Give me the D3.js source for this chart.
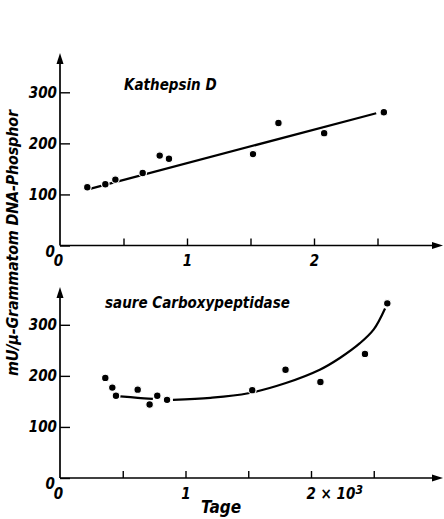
<html>
	<head>
		<script src="https://d3js.org/d3.v7.min.js" charset="utf-8"></script>
		<style>
			body { margin: 0; background: #fff; }
			svg text { font-family: "DejaVu Sans Condensed", "DejaVu Sans", sans-serif; font-style: italic; font-weight: bold; fill: #000; }
		</style>
	</head>
	<body>
		<div id="chart"></div>
		<script>
			//Data (x in 10^3 Tage, y in mU/µ-Grammatom DNA-Phosphor)
			var katX = [0.215, 0.357, 0.436, 0.651, 0.785, 0.858, 1.52, 1.72, 2.08, 2.55];
			var katY = [114, 120, 129, 142, 176, 170, 179, 240, 220, 261];
			var katFitX = [0.22, 2.49];
			var katFitY = [110, 259];

			var carbX = [0.361, 0.417, 0.446, 0.619, 0.714, 0.775, 0.853, 1.532, 1.797, 2.075, 2.43, 2.608];
			var carbY = [196, 177, 161, 173, 144, 161, 153, 172, 212, 188, 243, 342];
			var carbFit1X = [0.48, 0.62, 0.74];
			var carbFit1Y = [160, 157, 155];
			var carbFit2X = [0.9, 1.2, 1.5, 1.8, 2.07, 2.23, 2.39, 2.5, 2.59];
			var carbFit2Y = [153, 157, 166, 186, 212, 235, 264, 291, 332];

			var yTicks = [0, 100, 200, 300];
			var xTicks = [0, 0.5, 1, 1.5, 2, 2.5];

			//Setup
			var svg = d3.select("#chart").append("svg")
				.attr("width", 444)
				.attr("height", 519);

			function panel(opts) {
				var x = d3.scaleLinear().domain([0, 2]).range([60, opts.x2]);
				var y = d3.scaleLinear().domain([0, 300]).range([opts.y0, opts.y0 - 153.2]);
				var g = svg.append("g");

				// y ticks (inward) and labels
				var yAx = g.append("g")
					.attr("transform", "translate(60,0)")
					.call(d3.axisLeft(y).tickValues(yTicks).tickSizeInner(-10).tickSizeOuter(0).tickPadding(3));
				yAx.select(".domain").remove();
				yAx.selectAll("line").attr("stroke-width", 1.4);
				yAx.selectAll("text").attr("font-size", "15px").attr("font-family", null);
				yAx.selectAll("text").filter(function(d) { return d == 0; })
					.attr("dy", "0.7em").attr("x", -5);

				// x ticks (upward) and labels
				var xAx = g.append("g")
					.attr("transform", "translate(0," + opts.y0 + ")")
					.call(d3.axisBottom(x).tickValues(xTicks).tickSizeInner(-7).tickSizeOuter(0).tickPadding(10)
						.tickFormat(function(d) { return (d == 0 || d == 1 || d == 2) ? d : ""; }));
				xAx.select(".domain").remove();
				xAx.selectAll("line").attr("stroke-width", 1.4)
					.filter(function(d) { return d == 0; }).remove();
				xAx.selectAll("text").attr("font-size", "15px").attr("font-family", null);
				xAx.selectAll("text").filter(function(d) { return d == 0; }).attr("x", -2);
				if (opts.power) {
					var t2 = xAx.selectAll("text").filter(function(d) { return d == 2; });
					t2.text(null).attr("text-anchor", "start").attr("x", -5);
					t2.append("tspan").text("2 × 10");
					t2.append("tspan").attr("dy", "-0.4em").attr("font-size", "12px").text("3");
				}

				// axis lines with arrows
				g.append("line")
					.attr("x1", 60).attr("x2", 60)
					.attr("y1", opts.y0).attr("y2", opts.top + 8)
					.attr("stroke", "#000").attr("stroke-width", 1.7);
				g.append("line")
					.attr("x1", 60).attr("x2", 436)
					.attr("y1", opts.y0).attr("y2", opts.y0)
					.attr("stroke", "#000").attr("stroke-width", 1.7);
				g.append("path")
					.attr("d", "M60," + opts.top + "L56.5," + (opts.top + 11) + "L63.5," + (opts.top + 11) + "Z")
					.attr("fill", "#000");
				g.append("path")
					.attr("d", "M443," + opts.y0 + "L432," + (opts.y0 - 3.5) + "L432," + (opts.y0 + 3.5) + "Z")
					.attr("fill", "#000");

				// fitted curves
				var line = d3.line().curve(d3.curveCatmullRom)
					.x(function(d) { return x(d[0]); })
					.y(function(d) { return y(d[1]); });
				opts.fits.forEach(function(f) {
					g.append("path")
						.datum(d3.zip(f[0], f[1]))
						.attr("d", line)
						.attr("fill", "none")
						.attr("stroke", "#000")
						.attr("stroke-width", 2.2);
				});

				// points
				g.selectAll("circle")
					.data(d3.zip(opts.xs, opts.ys))
					.enter().append("circle")
					.attr("cx", function(d) { return x(d[0]); })
					.attr("cy", function(d) { return y(d[1]); })
					.attr("r", 3.8)
					.attr("fill", "#000")
					.attr("stroke", "#fff")
					.attr("stroke-width", 1.2);

				// title
				g.append("text")
					.attr("x", opts.titleX)
					.attr("y", opts.titleY)
					.attr("font-size", "15px")
					.text(opts.title);
			}

			panel({y0: 245.5, top: 53, x2: 314, xs: katX, ys: katY,
				fits: [[katFitX, katFitY]], title: "Kathepsin D", titleX: 124, titleY: 90});
			panel({y0: 478, top: 287, x2: 311, xs: carbX, ys: carbY,
				fits: [[carbFit1X, carbFit1Y], [carbFit2X, carbFit2Y]],
				title: "saure Carboxypeptidase", titleX: 105, titleY: 308, power: true});

			// axis titles
			svg.append("text")
				.attr("transform", "translate(18,243) rotate(-90)")
				.attr("text-anchor", "middle")
				.attr("font-size", "16px")
				.attr("textLength", 266)
				.text("mU/µ-Grammatom DNA-Phosphor");
			svg.append("text")
				.attr("x", 221)
				.attr("y", 513)
				.attr("text-anchor", "middle")
				.attr("font-size", "17px")
				.text("Tage");
		</script>
	</body>
</html>
